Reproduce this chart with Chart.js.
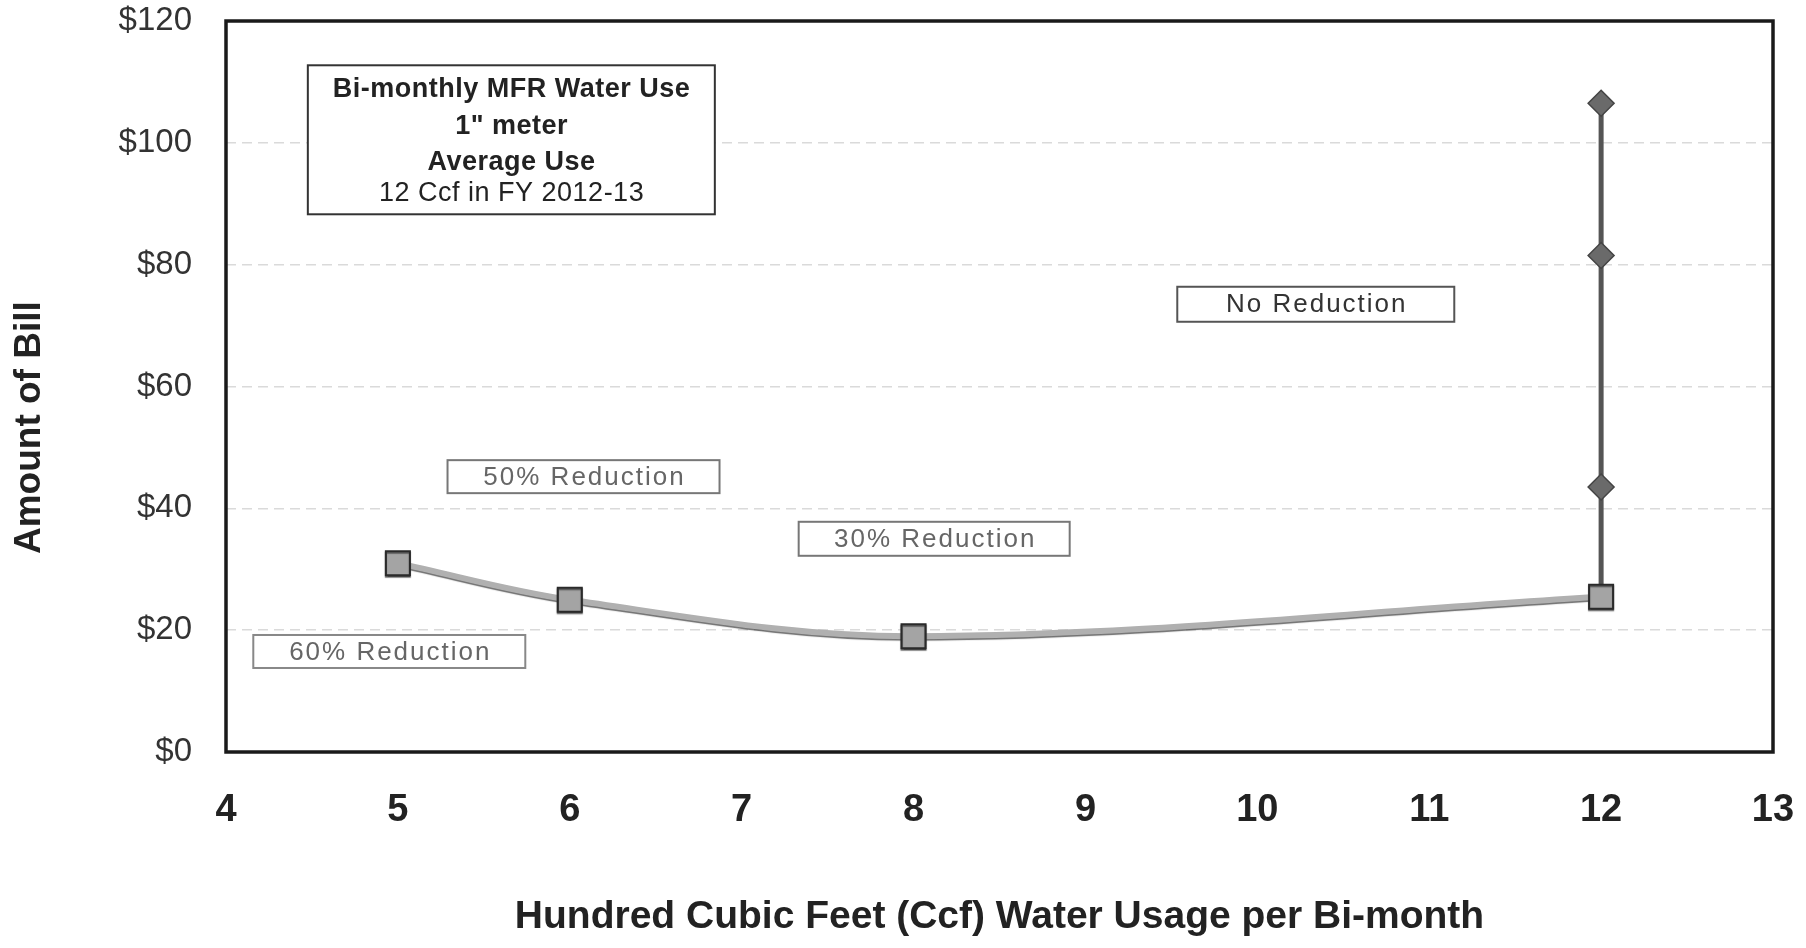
<!DOCTYPE html>
<html>
<head>
<meta charset="utf-8">
<script src="https://cdn.jsdelivr.net/npm/chart.js@4.4.0/dist/chart.umd.min.js"></script>
<style>
  html, body { margin: 0; padding: 0; background: #fff; }
  #c { display: block; }
</style>
</head>
<body>
<canvas id="c" width="1806" height="948"></canvas>
<script>
const xTicks = [4, 5, 6, 7, 8, 9, 10, 11, 12, 13]
const yTicks = [0, 20, 40, 60, 80, 100, 120]

// reduction curve (squares)
const reductionUse = [5, 6, 8, 12]
const reductionBill = [31, 25, 19, 25.5]

// no reduction (diamonds), all at 12 Ccf
const noReductionUse = [12, 12, 12, 12]
const noReductionBill = [25.5, 43.5, 81.5, 106.5]

const FONT = "'Liberation Sans', Arial, sans-serif"

// text boxes placed in data units, sized in px
const notes = [
  {
    x: 5.66, y: 100.5, w: 407, h: 149, size: 27, spacing: 0.5, color: '#222', border: '#333',
    lines: [
      { text: 'Bi-monthly MFR Water Use', bold: true, dy: -51 },
      { text: '1" meter', bold: true, dy: -14 },
      { text: 'Average Use', bold: true, dy: 22 },
      { text: '12 Ccf in FY 2012-13', bold: false, dy: 53 }
    ]
  },
  { x: 10.34, y: 73.5, w: 277, h: 35, size: 26, spacing: 2, color: '#333', border: '#555',
    lines: [{ text: 'No Reduction', dy: 0 }] },
  { x: 6.08, y: 45.2, w: 272, h: 33, size: 26, spacing: 2, color: '#666', border: '#777',
    lines: [{ text: '50% Reduction', dy: 0 }] },
  { x: 8.12, y: 35.0, w: 271, h: 34, size: 26, spacing: 2, color: '#666', border: '#777',
    lines: [{ text: '30% Reduction', dy: 0 }] },
  { x: 4.95, y: 16.5, w: 272, h: 33, size: 26, spacing: 2, color: '#666', border: '#888',
    lines: [{ text: '60% Reduction', dy: 0 }] }
]

const frame = {
  id: 'frame',
  beforeDatasetsDraw(chart) {
    const { ctx, chartArea: a } = chart
    ctx.save()
    ctx.strokeStyle = '#1a1a1a'
    ctx.lineWidth = 3.5
    ctx.strokeRect(a.left, a.top, a.right - a.left, a.bottom - a.top)
    ctx.restore()
  }
}

// darker edge under the light grey curve
const edge = {
  id: 'edge',
  beforeDatasetDraw(chart, args) {
    if (args.index !== 0) return
    const ctx = chart.ctx
    ctx.save()
    ctx.shadowColor = 'rgba(60,60,60,0.75)'
    ctx.shadowOffsetX = 0
    ctx.shadowOffsetY = 1.5
    ctx.shadowBlur = 1
  },
  afterDatasetDraw(chart, args) {
    if (args.index !== 0) return
    chart.ctx.restore()
  }
}

const boxes = {
  id: 'boxes',
  afterDatasetsDraw(chart) {
    const { ctx, scales: { x, y } } = chart
    notes.forEach(n => {
      const cx = x.getPixelForValue(n.x)
      const cy = y.getPixelForValue(n.y)
      ctx.save()
      ctx.fillStyle = '#fff'
      ctx.strokeStyle = n.border
      ctx.lineWidth = 2
      ctx.fillRect(cx - n.w / 2, cy - n.h / 2, n.w, n.h)
      ctx.strokeRect(cx - n.w / 2, cy - n.h / 2, n.w, n.h)
      ctx.textAlign = 'center'
      ctx.textBaseline = 'middle'
      ctx.fillStyle = n.color
      ctx.letterSpacing = n.spacing + 'px'
      n.lines.forEach(l => {
        ctx.font = (l.bold ? 'bold ' : '') + n.size + 'px ' + FONT
        ctx.fillText(l.text, cx + n.spacing / 2, cy + l.dy + 1)
      })
      ctx.restore()
    })
  }
}

new Chart('c', {
  type: 'line',
  data: {
    datasets: [
      {
        label: 'Reduction',
        data: reductionUse.map((u, i) => ({ x: u, y: reductionBill[i] })),
        borderColor: '#b0b0b0',
        borderWidth: 6,
        tension: 0.35,
        pointStyle: 'rect',
        pointRadius: 17,
        pointBackgroundColor: '#a4a4a4',
        pointBorderColor: '#2a2a2a',
        pointBorderWidth: 2
      },
      {
        label: 'No Reduction',
        data: noReductionUse.map((u, i) => ({ x: u, y: noReductionBill[i] })),
        borderColor: '#555',
        borderWidth: 5,
        pointStyle: 'rectRot',
        pointRadius: [0, 13, 13, 13],
        pointBackgroundColor: '#6a6a6a',
        pointBorderColor: '#444',
        pointBorderWidth: 1.5
      }
    ]
  },
  options: {
    responsive: false,
    animation: false,
    devicePixelRatio: 1,
    layout: { padding: { left: 0, right: 33, top: 21, bottom: 0 } },
    plugins: { legend: { display: false }, tooltip: { enabled: false } },
    scales: {
      x: {
        type: 'linear',
        min: 4,
        max: 13,
        afterBuildTicks: s => { s.ticks = xTicks.map(v => ({ value: v })) },
        afterFit: s => { s.height = 196; s.paddingLeft = 0; s.paddingRight = 0 },
        grid: { display: false, drawTicks: false },
        border: { display: false },
        ticks: {
          padding: 36,
          color: '#222',
          font: { family: FONT, size: 38, weight: 'bold' }
        },
        title: {
          display: true,
          text: 'Hundred Cubic Feet (Ccf) Water Usage per Bi-month',
          color: '#222',
          font: { family: FONT, size: 39, weight: 'bold' },
          padding: { top: 0, bottom: 7 }
        }
      },
      y: {
        min: 0,
        max: 120,
        afterBuildTicks: s => { s.ticks = yTicks.map(v => ({ value: v })) },
        afterFit: s => { s.width = 226; s.paddingTop = 0; s.paddingBottom = 0 },
        grid: { color: '#dadada', lineWidth: 1.5, drawTicks: false },
        border: { display: false, dash: [10, 6] },
        ticks: {
          padding: 34,
          color: '#333',
          font: { family: FONT, size: 33 },
          callback: v => '$' + v
        },
        title: {
          display: true,
          // trailing spaces push the rotated title down, as in the original
          text: 'Amount of Bill        ',
          color: '#222',
          font: { family: FONT, size: 37, weight: 'bold' },
          padding: { top: 8, bottom: 0 }
        }
      }
    }
  },
  plugins: [frame, edge, boxes]
})
</script>
</body>
</html>
